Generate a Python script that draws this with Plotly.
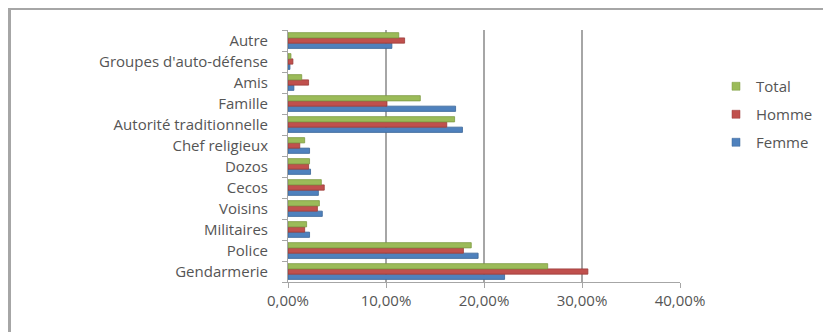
import plotly.graph_objects as go

categories = ["Gendarmerie", "Police", "Militaires", "Voisins", "Cecos", "Dozos",
              "Chef religieux", "Autorité traditionnelle", "Famille", "Amis",
              "Groupes d'auto-défense", "Autre"]
femme = [0.221, 0.194, 0.022, 0.035, 0.031, 0.023, 0.022, 0.178, 0.171, 0.006, 0.002, 0.106]
homme = [0.306, 0.179, 0.017, 0.030, 0.037, 0.021, 0.012, 0.162, 0.101, 0.021, 0.005, 0.119]
total = [0.265, 0.187, 0.019, 0.032, 0.034, 0.022, 0.017, 0.170, 0.135, 0.014, 0.003, 0.113]
x_ticks = [0, 0.1, 0.2, 0.3, 0.4]

W, H = 831, 332
OFF = 8  # page body margin
L, T = 288 - OFF, 30 - OFF
R = W - (680 - OFF)
B = H - (282 - OFF)
pw, ph = W - L - R, H - T - B

series = [("Femme", femme, "#4F81BD", "#3A6497"),
          ("Homme", homme, "#C0504D", "#9A3B38"),
          ("Total", total, "#9BBB59", "#7D9A43")]

fig = go.Figure()
for name, vals, color, line in series:
    fig.add_trace(go.Bar(y=categories, x=vals, name=name, orientation="h",
                         marker=dict(color=color, line=dict(color=line, width=0.8)),
                         showlegend=False))
for name, vals, color, line in reversed(series):
    fig.add_trace(go.Scatter(x=[None], y=[None], mode="markers", name=name,
                             marker=dict(symbol="square", size=8, color=color,
                                         line=dict(color=line, width=0.5)),
                             legendgroup=name, showlegend=True))

font_fam = "Open Sans, sans-serif"
txt = "#555555"
fig.update_layout(
    width=W, height=H,
    margin=dict(l=L, r=R, t=T, b=B, pad=0),
    paper_bgcolor="white", plot_bgcolor="white",
    barmode="group", bargap=0.25, bargroupgap=0,
    separators=", ",
    font=dict(family=font_fam, size=15, color=txt),
    legend=dict(x=(716 - 288) / pw, y=1 - (70 - 30) / ph, xanchor="left", yanchor="top",
                traceorder="grouped", tracegroupgap=5.5,
                font=dict(size=15, color=txt), itemwidth=30),
    showlegend=True,
    xaxis=dict(range=[0, 0.4], tickvals=x_ticks, tickformat=".2%",
               showgrid=True, gridcolor="#A6A6A6", gridwidth=2,
               showline=True, linecolor="#A6A6A6", linewidth=1,
               ticks="outside", ticklen=5, tickcolor="#A6A6A6",
               zeroline=False, tickfont=dict(size=15, color=txt)),
    yaxis=dict(categoryorder="array", categoryarray=categories,
               showline=True, linecolor="#A6A6A6", linewidth=1,
               ticks="outside", ticklen=5, tickcolor="#A6A6A6",
               tickson="boundaries", showgrid=False, ticklabelstandoff=16,
               tickfont=dict(size=15, color=txt)),
    shapes=[
        dict(type="line", xref="paper", yref="paper",
             x0=(0 - L) / pw, x1=(W + 5 - L) / pw,
             y0=1 + (T - 1) / ph, y1=1 + (T - 1) / ph,
             line=dict(color="#A6A6A6", width=2)),
        dict(type="line", xref="paper", yref="paper",
             x0=(1.5 - L) / pw, x1=(1.5 - L) / pw,
             y0=1 + (T - 1) / ph, y1=-(B + 5) / ph,
             line=dict(color="#A6A6A6", width=3)),
    ],
)
fig.write_html("out.html")
